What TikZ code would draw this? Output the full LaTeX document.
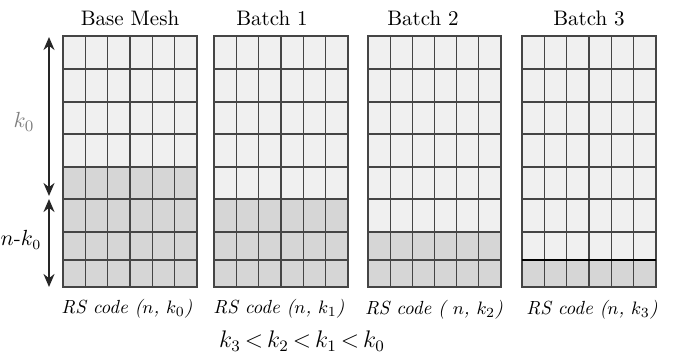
\documentclass[tikz,border=0pt]{standalone}
\usepackage{tikz}
\usetikzlibrary{arrows.meta}
\definecolor{cellLight}{HTML}{F0F0F0}
\definecolor{cellDark}{HTML}{D6D6D6}
\definecolor{gridLine}{HTML}{454545}

\begin{document}
\begin{tikzpicture}[x=0.5pt,y=-0.5pt,
  gridline/.style={draw=gridLine,line width=0.55pt},
  title/.style={font=\fontsize{10.5}{12}\selectfont},
  caption/.style={font=\fontsize{9.5}{11}\selectfont\itshape},
  span/.style={{Stealth[length=6.5pt,width=5.5pt]}-{Stealth[length=6.5pt,width=5.5pt]},line width=1.2pt,draw=black!85}]
  \useasboundingbox (0,0) rectangle (674,356);
  % meshes: left edge / right edge / top of the shaded part
  \foreach \l/\r/\s in {63/197/167,214/348/199,368/501/232,522/656/260} {
    \fill[cellLight] (\l,36) rectangle (\r,\s);
    \fill[cellDark] (\l,\s) rectangle (\r,287);
    \foreach \y in {69,102,134,167,199,232,260} \draw[gridline] (\l,\y) -- (\r,\y);
    \foreach \i in {1,...,5} \draw[gridline] ({\l+\i*(\r-\l)/6},36) -- ({\l+\i*(\r-\l)/6},287);
    \draw[gridline] (\l,36) rectangle (\r,287);
  }
  \draw[line width=1.2pt] (522,260) -- (656,260);

  % titles
  \node[title] (tBase) at (130,18) {Base Mesh};
  \node[title] (tB1) at (272,18) {Batch 1};
  \node[title] (tB2) at (423,18) {Batch 2};
  \node[title] (tB3) at (589,18) {Batch 3};

  % k_0 and n-k_0 spans
  \coordinate (k0top) at (49,37);
  \coordinate (k0bot) at (49,196);
  \coordinate (nktop) at (49,199);
  \coordinate (nkbot) at (49,287);
  \draw[span] (k0top) -- (k0bot);
  \draw[span] (nktop) -- (nkbot);
  \node[text=gray,font=\fontsize{11}{13}\selectfont] (k0) at (24,122) {$k_0$};
  \node[font=\fontsize{10.5}{12}\selectfont,inner sep=0pt] (nk0) at (21,240) {$n$-$k_0$};

  % codes
  \node[caption] (cBase) at (127,309) {RS code ($n$, $k_0$)};
  \node[caption] (cB1) at (279,309) {RS code ($n$, $k_1$)};
  \node[caption] (cB2) at (434,310) {RS code ( $n$, $k_2$)};
  \node[caption] (cB3) at (592,310) {RS code ($n$, $k_3$)};
  \node[font=\fontsize{11.5}{13}\selectfont] (order) at (302,341) {$k_3\,{<}\,k_2\,{<}\,k_1\,{<}\,k_0$};
\end{tikzpicture}
\end{document}
